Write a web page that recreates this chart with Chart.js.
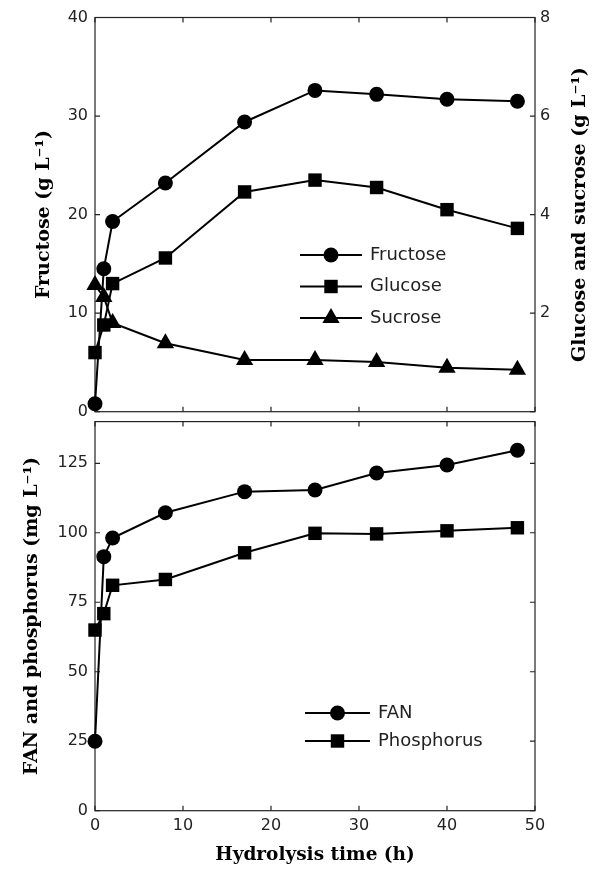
<!DOCTYPE html>
<html>
<head>
<meta charset="utf-8">
<script src="https://cdn.jsdelivr.net/npm/chart.js@4.4.0/dist/chart.umd.min.js"></script>
<style>
  html, body { margin: 0; padding: 0; background: #fff; }
  #wrap { position: relative; width: 594px; height: 869px; }
  #wrap canvas { position: absolute; left: 0; }
  #sugarChart { top: 0; }
  #fanChart { top: 405px; }
</style>
</head>
<body>
<div id="wrap">
  <canvas id="sugarChart" width="594" height="430"></canvas>
  <canvas id="fanChart" width="594" height="464"></canvas>
</div>
<script>
// hydrolysis time (h)
var hours = [0, 1, 2, 8, 17, 25, 32, 40, 48];
// top panel: fructose on left axis, glucose & sucrose on right axis (g/L)
var fructose = [0.8, 14.5, 19.3, 23.2, 29.4, 32.6, 32.2, 31.7, 31.5];
var glucose = [1.2, 1.76, 2.6, 3.12, 4.46, 4.7, 4.55, 4.1, 3.72];
var sucrose = [2.57, 2.33, 1.8, 1.39, 1.05, 1.05, 1.01, 0.89, 0.85];
// bottom panel (mg/L)
var fan = [25, 91.4, 98.1, 107.2, 114.8, 115.4, 121.5, 124.4, 129.7];
var phosphorus = [65, 70.9, 81.1, 83.2, 92.8, 99.8, 99.6, 100.7, 101.8];

function pts(ys) {
    return hours.map(function (h, i) { return { x: h, y: ys[i] }; });
}

Chart.defaults.font.family = 'DejaVu Sans';
Chart.defaults.font.size = 16;
Chart.defaults.color = '#222';
Chart.defaults.animation = false;

var titleFont = { family: 'DejaVu Serif', weight: 'bold', size: 19 };

// box round the plot area + inward tick marks (MATLAB style)
var boxTicks = {
    id: 'boxTicks',
    beforeDatasetsDraw: function (chart) {
        var a = chart.chartArea, ctx = chart.ctx, len = 5;
        var xs = chart.scales.x, yl = chart.scales.y, yr = chart.scales.y1 || yl;
        ctx.save();
        ctx.strokeStyle = '#222';
        ctx.lineWidth = 1.2;
        ctx.strokeRect(a.left, a.top, a.right - a.left, a.bottom - a.top);
        ctx.beginPath();
        xs.ticks.forEach(function (t) {
            var px = xs.getPixelForValue(t.value);
            ctx.moveTo(px, a.bottom); ctx.lineTo(px, a.bottom - len);
            ctx.moveTo(px, a.top); ctx.lineTo(px, a.top + len);
        });
        yl.ticks.forEach(function (t) {
            var py = yl.getPixelForValue(t.value);
            ctx.moveTo(a.left, py); ctx.lineTo(a.left + len, py);
        });
        yr.ticks.forEach(function (t) {
            var py = yr.getPixelForValue(t.value);
            ctx.moveTo(a.right, py); ctx.lineTo(a.right - len, py);
        });
        ctx.stroke();
        ctx.restore();
    }
};

// legend drawn inside the plot
var innerLegend = {
    id: 'innerLegend',
    afterDatasetsDraw: function (chart, args, opts) {
        var ctx = chart.ctx;
        ctx.save();
        chart.data.datasets.forEach(function (ds, i) {
            var y = opts.top + i * opts.rowGap;
            ctx.strokeStyle = '#000';
            ctx.lineWidth = 2;
            ctx.beginPath();
            ctx.moveTo(opts.left, y);
            ctx.lineTo(opts.left + opts.lineLen, y);
            ctx.stroke();
            ctx.fillStyle = '#000';
            Chart.helpers.drawPoint(ctx, {
                pointStyle: ds.pointStyle, radius: ds.pointRadius, rotation: 0, borderWidth: 0
            }, opts.left + opts.lineLen / 2, y);
            ctx.fillStyle = '#222';
            ctx.font = '18px "DejaVu Sans"';
            ctx.textBaseline = 'middle';
            ctx.textAlign = 'left';
            ctx.fillText(ds.label, opts.left + opts.lineLen + opts.textGap, y);
        });
        ctx.restore();
    }
};

// right axis title reads upward like the left one
var rightTitle = {
    id: 'rightTitle',
    afterDraw: function (chart, args, opts) {
        if (!opts.text) return;
        var a = chart.chartArea, ctx = chart.ctx;
        ctx.save();
        ctx.translate(opts.x, (a.top + a.bottom) / 2);
        ctx.rotate(-Math.PI / 2);
        ctx.font = 'bold 19px "DejaVu Serif"';
        ctx.fillStyle = '#000';
        ctx.textAlign = 'center';
        ctx.textBaseline = 'middle';
        ctx.fillText(opts.text, 0, 0);
        ctx.restore();
    }
};

function lineSet(label, ys, style, r, axis) {
    return {
        label: label,
        data: pts(ys),
        yAxisID: axis,
        borderColor: '#000',
        backgroundColor: '#000',
        borderWidth: 2,
        pointStyle: style,
        pointRadius: r,
        pointHoverRadius: r,
        pointBorderWidth: 0,
        tension: 0,
        clip: false
    };
}

var sugarCtx = document.getElementById('sugarChart').getContext('2d');
var sugarChart = new Chart(sugarCtx, {
    type: 'line',
    data: {
        datasets: [
            lineSet('Fructose', fructose, 'circle', 7.5, 'y'),
            lineSet('Glucose', glucose, 'rect', 9.5, 'y1'),
            lineSet('Sucrose', sucrose, 'triangle', 10, 'y1')
        ]
    },
    options: {
        responsive: false,
        layout: { padding: { top: 17.5, bottom: 0, left: 0, right: 0 } },
        scales: {
            x: {
                type: 'linear', min: 0, max: 50,
                ticks: { display: false, stepSize: 10 },
                grid: { display: false, drawTicks: false },
                border: { display: false },
                afterFit: function (s) { s.height = 18.3; }
            },
            y: {
                min: 0, max: 40,
                ticks: { stepSize: 10, padding: 7 },
                grid: { display: false, drawTicks: false },
                border: { display: false },
                title: { display: true, text: 'Fructose (g L⁻¹)', font: titleFont, color: '#000', padding: { top: 33, bottom: 0 } },
                afterFit: function (s) { s.width = 95; }
            },
            y1: {
                position: 'right',
                min: 0, max: 8,
                ticks: { stepSize: 2, padding: 5, callback: function (v) { return v === 0 ? '' : v; } },
                grid: { display: false, drawTicks: false },
                border: { display: false },
                afterFit: function (s) { s.width = 59; }
            }
        },
        plugins: {
            legend: { display: false },
            tooltip: { enabled: false },
            innerLegend: { left: 300, top: 255, rowGap: 31.5, lineLen: 62, textGap: 8 },
            rightTitle: { text: 'Glucose and sucrose (g L⁻¹)', x: 580 }
        }
    },
    plugins: [boxTicks, innerLegend, rightTitle]
});

var fanCtx = document.getElementById('fanChart').getContext('2d');
var fanChart = new Chart(fanCtx, {
    type: 'line',
    data: {
        datasets: [
            lineSet('FAN', fan, 'circle', 7.5, 'y'),
            lineSet('Phosphorus', phosphorus, 'rect', 9.5, 'y')
        ]
    },
    options: {
        responsive: false,
        layout: { padding: { top: 7, bottom: 0, left: 0, right: 59 } },
        scales: {
            x: {
                type: 'linear', min: 0, max: 50,
                ticks: { stepSize: 10, padding: 6 },
                grid: { display: false, drawTicks: false },
                border: { display: false },
                title: { display: true, text: 'Hydrolysis time (h)', font: { family: 'DejaVu Serif', weight: 'bold', size: 18.5 }, color: '#000', padding: { top: 0, bottom: 3 } },
                afterFit: function (s) { s.height = 58.3; }
            },
            y: {
                min: 0, max: 140,
                ticks: { stepSize: 25, padding: 7, includeBounds: false },
                grid: { display: false, drawTicks: false },
                border: { display: false },
                title: { display: true, text: 'FAN and phosphorus (mg L⁻¹)', font: titleFont, color: '#000', padding: { top: 21, bottom: 0 } },
                afterFit: function (s) { s.width = 95; }
            }
        },
        plugins: {
            legend: { display: false },
            tooltip: { enabled: false },
            innerLegend: { left: 305, top: 308, rowGap: 28, lineLen: 65, textGap: 8 }
        }
    },
    plugins: [boxTicks, innerLegend]
});
</script>
</body>
</html>
